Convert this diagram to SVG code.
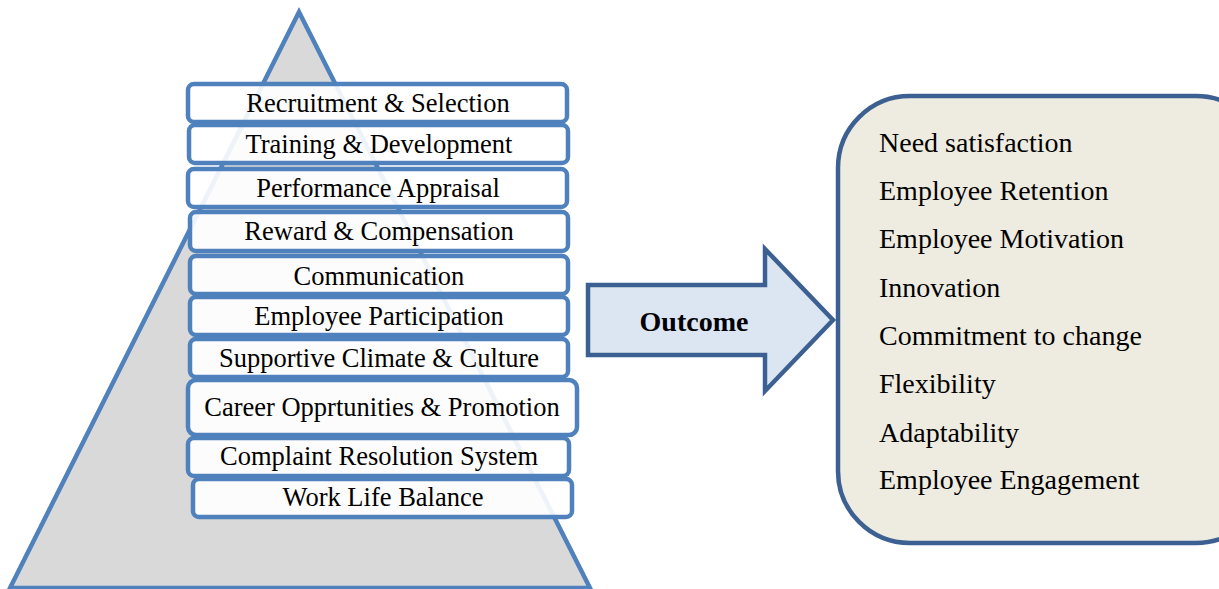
<svg xmlns="http://www.w3.org/2000/svg" width="1219" height="589" viewBox="0 0 1219 589">
<style>
.box{fill:#ffffff;fill-opacity:0.9;stroke:#4F81BD;stroke-width:4.5}
.bt{font-family:"Liberation Serif","Times New Roman",serif;font-size:26.5px;fill:#000;text-anchor:middle}
.ot{font-family:"Liberation Serif","Times New Roman",serif;font-size:28px;fill:#000}
</style>
<rect width="1219" height="589" fill="#ffffff"/>
<g id="pyramid">
<polygon points="299,12 590,588 10,588" fill="#D9D9D9" stroke="#4F81BD" stroke-width="4.5" stroke-linejoin="miter"/>
</g>
<g id="n1"><rect class="box" x="188" y="84" width="379" height="38" rx="6"/><text class="bt" x="378" y="112">Recruitment &amp; Selection</text></g>
<g id="n2"><rect class="box" x="189" y="125" width="379" height="38" rx="6"/><text class="bt" x="379" y="153">Training &amp; Development</text></g>
<g id="n3"><rect class="box" x="188" y="169" width="379" height="38" rx="6"/><text class="bt" x="378" y="197">Performance Appraisal</text></g>
<g id="n4"><rect class="box" x="190" y="212" width="378" height="39" rx="6"/><text class="bt" x="379" y="240">Reward &amp; Compensation</text></g>
<g id="n5"><rect class="box" x="190" y="256" width="378" height="38" rx="6"/><text class="bt" x="379" y="285">Communication</text></g>
<g id="n6"><rect class="box" x="190" y="297" width="378" height="38" rx="6"/><text class="bt" x="379" y="325">Employee Participation</text></g>
<g id="n7"><rect class="box" x="190" y="339" width="378" height="38" rx="6"/><text class="bt" x="379" y="367">Supportive Climate &amp; Culture</text></g>
<g id="n8"><rect class="box" x="188" y="380" width="389" height="55" rx="8"/><text class="bt" x="382" y="416">Career Opprtunities &amp; Promotion</text></g>
<g id="n9"><rect class="box" x="188" y="438" width="381" height="38" rx="6"/><text class="bt" x="379" y="465">Complaint Resolution System</text></g>
<g id="n10"><rect class="box" x="193" y="479" width="379" height="38" rx="6"/><text class="bt" x="383" y="506">Work Life Balance</text></g>
<g id="connectors">
<polygon points="588,285 765,285 765,249 833,320 765,391 765,355 588,355" fill="#DCE6F2" stroke="#3C6091" stroke-width="4.5" stroke-linejoin="miter"/>
<text x="694" y="331" font-family="Liberation Serif, Times New Roman, serif" font-size="28" font-weight="bold" text-anchor="middle">Outcome</text>
</g>
<g id="outcomes">
<rect x="838" y="96" width="430" height="447" rx="72" fill="#EEECE1" stroke="#3C6091" stroke-width="4.5"/>
<text class="ot" x="879" y="152">Need satisfaction</text>
<text class="ot" x="879" y="200">Employee Retention</text>
<text class="ot" x="879" y="248">Employee Motivation</text>
<text class="ot" x="879" y="297">Innovation</text>
<text class="ot" x="879" y="345">Commitment to change</text>
<text class="ot" x="879" y="393">Flexibility</text>
<text class="ot" x="879" y="442">Adaptability</text>
<text class="ot" x="879" y="489">Employee Engagement</text>
</g>
</svg>
